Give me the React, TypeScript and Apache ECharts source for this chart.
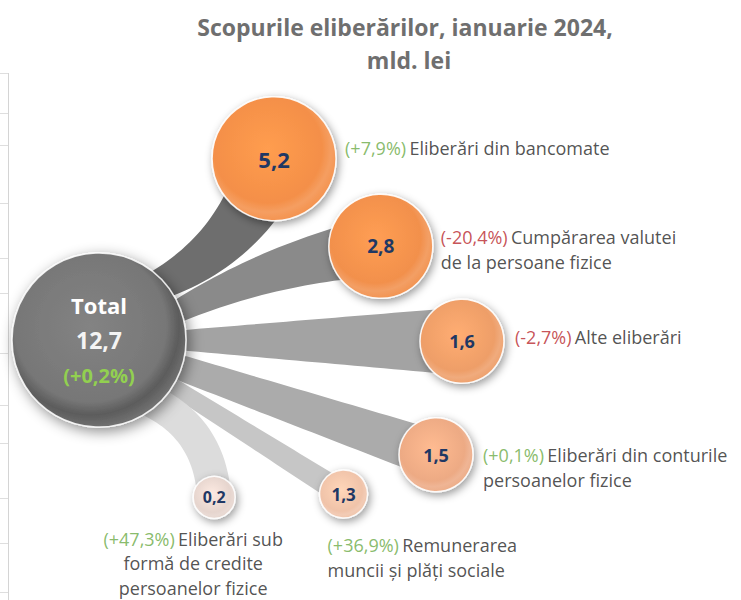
import React, { useEffect, useRef } from 'react';
import * as echarts from 'echarts';

// ---- data ----
const titleLines = ['Scopurile eliberărilor, ianuarie 2024,', 'mld. lei'];
const categories = [
  'Eliberări din bancomate',
  'Cumpărarea valutei\nde la persoane fizice',
  'Alte eliberări',
  'Eliberări din conturile\npersoanelor fizice',
  'Remunerarea\nmuncii și plăți sociale',
  'Eliberări sub\nformă de credite\npersoanelor fizice',
];
const values = [5.2, 2.8, 1.6, 1.5, 1.3, 0.2];
const changes = [7.9, -20.4, -2.7, 0.1, 36.9, 47.3];
const totalName = 'Total';
const totalValue = 12.7;
const totalChange = 0.2;

// ---- layout (polar placement around the total bubble) ----
const spokeDistance = [252, 297, 363, 356, 289, 195];
const spokeAngle = [46.0, 18.4, -0.2, -18.8, -32.2, -53.8];
const bubbleSize = [124, 104, 84, 74, 48, 42];
const totalSize = 174;
const bubbleFont = [22, 19, 18, 18, 17, 16];
const bubbleColors = ['#F48F48', '#F2904C', '#EE9E68', '#EDAA84', '#F0C3A9', '#E6D5CE'];
const bandColors = ['#6E6E6E', '#8A8A8A', '#A3A3A3', '#ABABAB', '#C6C6C6', '#DCDCDC'];
const bandStartHalf = [14, 10, 9, 12, 8, 16];
const bandEndHalf = [34, 30, 34, 24, 12, 17];
const bandBend = [40, -20, 0, 0, 0, -40];
const bandStart = 70;
const gridLineYs = [73, 113, 145, 203, 258, 293, 353, 405, 443, 498, 543, 592];

const GREEN = '#6AAA45';
const RED = '#B8262C';
const FONT = 'Open Sans';
const LABEL_SIZE = 18;

const fmt = (v: number) => v.toFixed(1).replace('.', ',');
const pct = (c: number) => `(${c >= 0 ? '+' : ''}${fmt(c)}%)`;

const labelPlacement: any[] = [
  { position: 'right', distance: 9, offset: [0, -11] },
  { position: 'right', distance: 8, offset: [0, 3] },
  { position: 'right', distance: 11, offset: [0, -4] },
  { position: 'right', distance: 10, offset: [0, 13] },
  { position: [8, 62], align: 'left', verticalAlign: 'top' },
  { position: [0, 50], align: 'center', verticalAlign: 'top', lineHeight: 24.5 },
];

function buildLabel(i: number) {
  const lines = categories[i].split('\n');
  const key = changes[i] >= 0 ? 'g' : 'r';
  return lines
    .map((l, k) => (k === 0 ? `{${key}|${pct(changes[i])}} {t|${l}}` : `{t|${l}}`))
    .join('\n');
}

function bubbleStyle(c: string) {
  return {
    opacity: 1,
    color: new echarts.graphic.RadialGradient(0.45, 0.42, 0.58, [
      { offset: 0, color: echarts.color.lift(c, -0.1) },
      { offset: 0.75, color: c },
      { offset: 0.88, color: echarts.color.lift(c, 0.14) },
      { offset: 1, color: echarts.color.lift(c, 0.05) },
    ]),
    borderColor: 'rgba(255,255,255,0.9)',
    borderWidth: 1.5,
    shadowBlur: 8,
    shadowColor: 'rgba(0,0,0,0.4)',
    shadowOffsetX: 2,
    shadowOffsetY: 3,
  };
}

export default function App() {
  const ref = useRef<HTMLDivElement>(null);
  useEffect(() => {
    if (!ref.current) return;
    const chart = echarts.init(ref.current, undefined, { renderer: 'svg' });

    const bubbles: any[] = values.map((v, i) => ({
      value: [spokeDistance[i], spokeAngle[i]],
      name: categories[i],
      symbolSize: bubbleSize[i],
      itemStyle: bubbleStyle(bubbleColors[i]),
      label: {
        show: true,
        position: 'inside',
        formatter: fmt(v),
        fontFamily: FONT,
        fontWeight: 'bold',
        fontSize: bubbleFont[i],
        color: '#1F3864',
      },
    }));
    bubbles.push({
      value: [0, 0],
      name: totalName,
      symbolSize: totalSize,
      itemStyle: {
        opacity: 1,
        color: new echarts.graphic.RadialGradient(0.45, 0.42, 0.58, [
          { offset: 0, color: '#838383' },
          { offset: 0.75, color: '#777777' },
          { offset: 0.88, color: '#5C5C5C' },
          { offset: 1, color: '#707070' },
        ]),
        borderColor: 'rgba(255,255,255,0.85)',
        borderWidth: 1.5,
        shadowBlur: 14,
        shadowColor: 'rgba(0,0,0,0.45)',
        shadowOffsetX: 3,
        shadowOffsetY: 4,
      },
      label: {
        show: true,
        position: 'inside',
        formatter: `{a|${totalName}}\n{b|${fmt(totalValue)}}\n{c|${pct(totalChange)}}`,
        rich: {
          a: { fontFamily: FONT, fontWeight: 'bold', fontSize: 22, color: '#FFFFFF', lineHeight: 35 },
          b: { fontFamily: FONT, fontWeight: 'bold', fontSize: 23, color: '#F4F4F4', lineHeight: 35 },
          c: { fontFamily: FONT, fontWeight: 'bold', fontSize: 20, color: '#92D050', lineHeight: 35 },
        },
      },
    });

    const outer: any[] = values.map((v, i) => {
      const { lineHeight, ...place } = labelPlacement[i];
      const lh = lineHeight || 25.5;
      return {
        value: [spokeDistance[i], spokeAngle[i]],
        symbolSize: bubbleSize[i],
        itemStyle: { color: 'rgba(0,0,0,0)' },
        label: {
          show: true,
          formatter: buildLabel(i),
          ...place,
          rich: {
            g: { fontFamily: FONT, fontSize: LABEL_SIZE, color: GREEN, lineHeight: lh },
            r: { fontFamily: FONT, fontSize: LABEL_SIZE, color: RED, lineHeight: lh },
            t: { fontFamily: FONT, fontSize: LABEL_SIZE, color: '#262626', lineHeight: lh },
          },
        },
      };
    });

    const titleStyle = {
      fontFamily: FONT,
      fontWeight: 'bold',
      fontSize: 23,
      fill: '#6F6F6F',
      textAlign: 'center',
      textVerticalAlign: 'middle',
    };
    const graphics: any[] = [
      { type: 'text', x: 405, y: 27, style: { text: titleLines[0], ...titleStyle } },
      { type: 'text', x: 409, y: 60, style: { text: titleLines[1], ...titleStyle } },
      {
        type: 'line',
        shape: { x1: 8.5, y1: 73, x2: 8.5, y2: 600 },
        style: { stroke: '#D4D4D4', lineWidth: 1 },
      },
      ...gridLineYs.map((y) => ({
        type: 'line',
        shape: { x1: 0, y1: y + 0.5, x2: 8, y2: y + 0.5 },
        style: { stroke: '#DEDEDE', lineWidth: 1 },
      })),
    ];

    const option: any = {
      animation: false,
      backgroundColor: '#FFFFFF',
      polar: { center: [99, 340], radius: 400 },
      radiusAxis: { type: 'value', min: 0, max: 400, show: false },
      angleAxis: { type: 'value', min: -180, max: 180, startAngle: 180, clockwise: false, show: false },
      graphic: graphics,
      series: [
        {
          type: 'custom',
          coordinateSystem: 'polar',
          z: 1,
          silent: true,
          data: values.map((v, i) => [spokeDistance[i], spokeAngle[i]]),
          renderItem: (params: any, api: any) => {
            const i = params.dataIndex;
            const c = api.coord([0, 0]);
            const p = api.coord([api.value(0), api.value(1)]);
            const dx = p[0] - c[0];
            const dy = p[1] - c[1];
            const len = Math.hypot(dx, dy);
            const ux = dx / len;
            const uy = dy / len;
            const nx = -uy;
            const ny = ux;
            const s = [c[0] + ux * bandStart, c[1] + uy * bandStart];
            const m = [(s[0] + p[0]) / 2 + nx * bandBend[i], (s[1] + p[1]) / 2 + ny * bandBend[i]];
            const left: number[][] = [];
            const right: number[][] = [];
            const N = 30;
            for (let k = 0; k <= N; k++) {
              const t = k / N;
              const a = (1 - t) * (1 - t);
              const b = 2 * (1 - t) * t;
              const d = t * t;
              const bx = a * s[0] + b * m[0] + d * p[0];
              const by = a * s[1] + b * m[1] + d * p[1];
              let tx = 2 * (1 - t) * (m[0] - s[0]) + 2 * t * (p[0] - m[0]);
              let ty = 2 * (1 - t) * (m[1] - s[1]) + 2 * t * (p[1] - m[1]);
              const tl = Math.hypot(tx, ty) || 1;
              tx /= tl;
              ty /= tl;
              const w = bandStartHalf[i] + (bandEndHalf[i] - bandStartHalf[i]) * t;
              left.push([bx - ty * w, by + tx * w]);
              right.push([bx + ty * w, by - tx * w]);
            }
            return {
              type: 'polygon',
              shape: { points: left.concat(right.reverse()) },
              style: { fill: bandColors[i] },
            };
          },
        },
        {
          type: 'scatter',
          coordinateSystem: 'polar',
          z: 3,
          symbol: 'circle',
          itemStyle: { opacity: 1 },
          data: bubbles,
        },
        {
          type: 'scatter',
          coordinateSystem: 'polar',
          z: 4,
          symbol: 'circle',
          silent: true,
          data: outer,
        },
      ],
    };
    chart.setOption(option);
    return () => chart.dispose();
  }, []);
  return (
    <div
      ref={ref}
      style={{ position: 'fixed', left: 0, top: 0, width: 741, height: 600, background: '#fff' }}
    />
  );
}
